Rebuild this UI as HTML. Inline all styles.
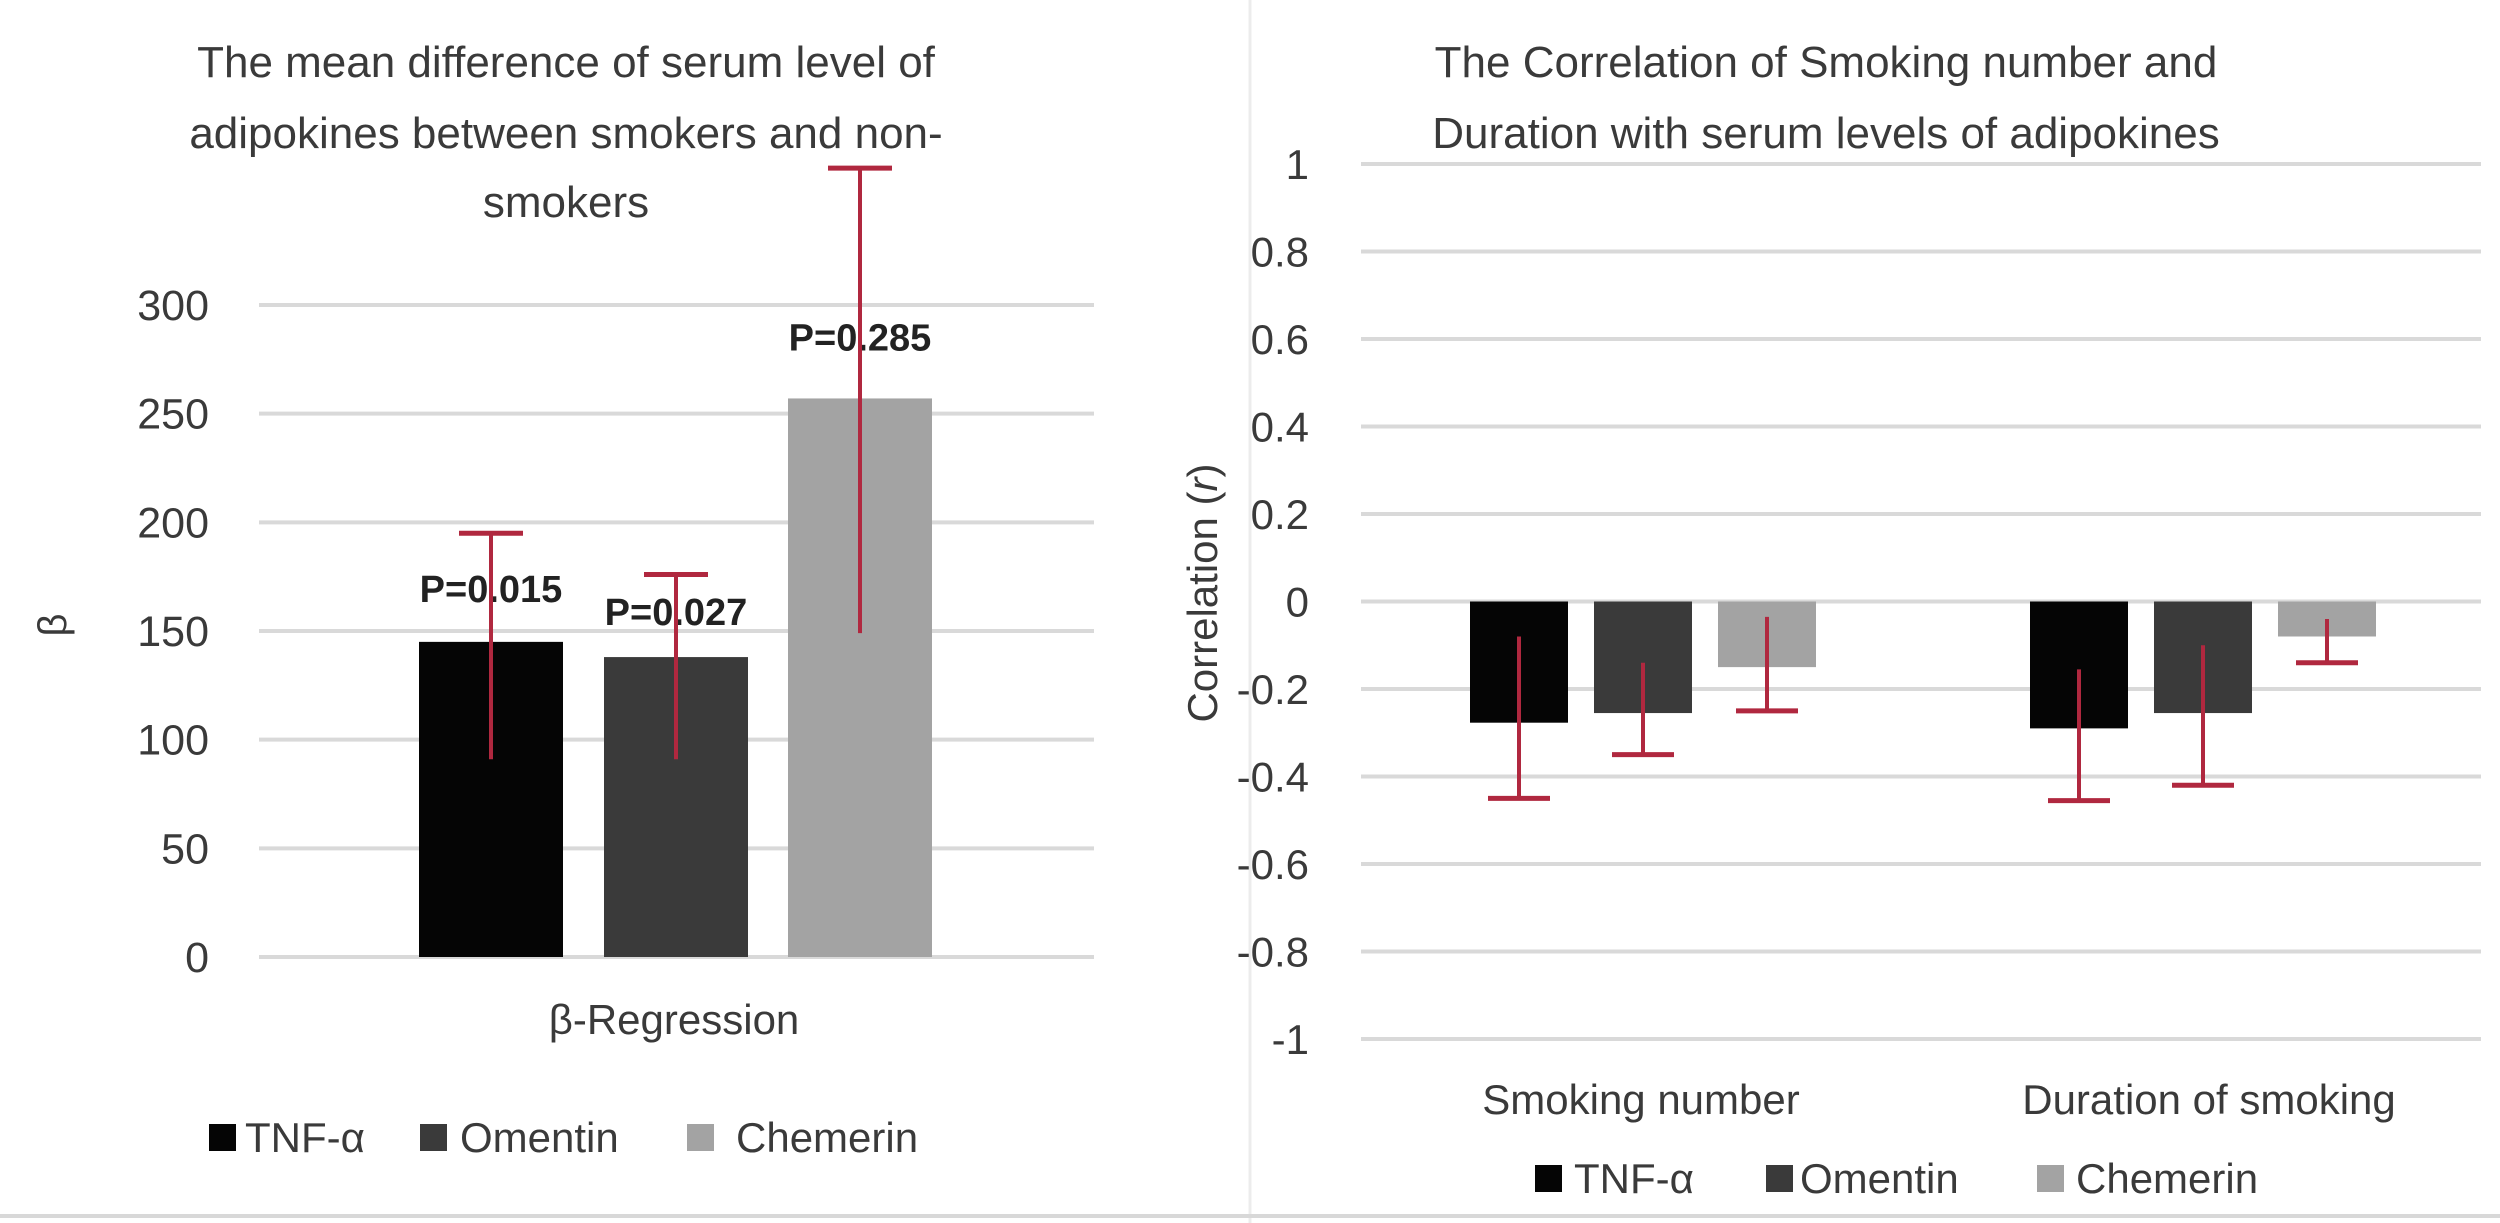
<!DOCTYPE html>
<html><head><meta charset="utf-8">
<style>
html,body{margin:0;padding:0;background:#fff;}
svg{display:block;font-family:"Liberation Sans",Arial,sans-serif;}
</style></head>
<body>
<svg id="fig" width="2500" height="1223" viewBox="0 0 2500 1223" xmlns="http://www.w3.org/2000/svg">
  <rect x="0" y="0" width="2500" height="1223" fill="#fff"/>
  <line x1="1250" y1="0" x2="1250" y2="1223" stroke="#ececec" stroke-width="3"/>
  <line x1="0" y1="1216" x2="2500" y2="1216" stroke="#d8d8d8" stroke-width="4"/>
  <g id="left"></g>
  <g id="right"></g>
</svg>
<script>
// ---- Left chart data ----
const leftSeries = ["TNF-α", "Omentin", "Chemerin"];
const leftValues = [145, 138, 257];
const leftErrLow = [91, 91, 149];
const leftErrHigh = [195, 176, 363];
const leftPLabels = ["P=0.015", "P=0.027", "P=0.285"];
const leftTicks = [0, 50, 100, 150, 200, 250, 300];

// ---- Right chart data ----
const rightCategories = ["Smoking number", "Duration of smoking"];
const rightSeries = ["TNF-α", "Omentin", "Chemerin"];
const rightTNF = [-0.277, -0.29];
const rightOmentin = [-0.255, -0.255];
const rightChemerin = [-0.15, -0.08];
const rightErrTopTNF = [-0.08, -0.155];
const rightErrBotTNF = [-0.45, -0.455];
const rightErrTopOm = [-0.14, -0.1];
const rightErrBotOm = [-0.35, -0.42];
const rightErrTopChem = [-0.035, -0.04];
const rightErrBotChem = [-0.25, -0.14];
const rightTicks = [1, 0.8, 0.6, 0.4, 0.2, 0, -0.2, -0.4, -0.6, -0.8, -1];

const NS = "http://www.w3.org/2000/svg";
const colors = ["#050505", "#3a3a3a", "#a3a3a3"];
const errColor = "#b0283f";
const txt = "#3a3a3a";
function mk(tag, attrs, parent){const e=document.createElementNS(NS,tag);for(const k in attrs)e.setAttribute(k,attrs[k]);parent.appendChild(e);return e;}

// ===== LEFT =====
const L = document.getElementById('left');
const lx0=259, lx1=1094, ly0=957, ly300=305;
const ly = v => ly0 - (v/300)*(ly0-ly300);
leftTicks.forEach(t=>{
  const g=mk('line',{x1:lx0,x2:lx1,y1:ly(t),y2:ly(t),stroke:'#d9d9d9','stroke-width':4},L);
  
  
  const tx=mk('text',{x:209,y:ly(t)+15,'text-anchor':'end','font-size':43,fill:txt},L);
  tx.textContent=String(t);
  
  
});
const lBarX=[419,604,788], lBarW=144;
leftValues.forEach((v,i)=>{
  const r=mk('rect',{x:lBarX[i],y:ly(v),width:lBarW,height:ly(0)-ly(v),fill:colors[i]},L);
  
  
});
leftValues.forEach((v,i)=>{
  const cx=lBarX[i]+lBarW/2;
  const p=mk('text',{x:cx,y:(i==2?ly(v)-48:ly(v)-40)+(i==1?8:0),'text-anchor':'middle','font-size':38,'font-weight':'bold',fill:'#222'},L);
  p.textContent=leftPLabels[i];
  
  
});
leftValues.forEach((v,i)=>{
  const cx=lBarX[i]+lBarW/2;
  const e=mk('line',{x1:cx,x2:cx,y1:ly(leftErrLow[i]),y2:ly(leftErrHigh[i]),stroke:errColor,'stroke-width':4},L);
  
  
  const c=mk('line',{x1:cx-32,x2:cx+32,y1:ly(leftErrHigh[i]),y2:ly(leftErrHigh[i]),stroke:errColor,'stroke-width':5},L);
  
  
});
[["The mean difference of serum level of",62],["adipokines between smokers and non-",133],["smokers",202]].forEach(([s,y],i)=>{
  const t=mk('text',{x:566,y:y+15,'text-anchor':'middle','font-size':44,fill:txt},L);
  t.textContent=s;
  
  
});
const bl=mk('text',{x:0,y:0,'text-anchor':'middle','font-size':40,fill:txt,transform:'translate(66,625) rotate(-90)'},L);
bl.textContent='β';


const xr=mk('text',{x:674,y:1034,'text-anchor':'middle','font-size':42,fill:txt},L);
xr.textContent='β-Regression';


const lLegSq=[209,420,687], lLegTx=[245,460,736];
leftSeries.forEach((s,i)=>{
  const r=mk('rect',{x:lLegSq[i],y:1124,width:27,height:27,fill:colors[i]},L);
  
  
  const t=mk('text',{x:lLegTx[i],y:1152,'font-size':42,fill:txt},L);
  t.textContent=s;
  
  
});

// ===== RIGHT =====
const R = document.getElementById('right');
const rx0=1361, rx1=2481, rTop=164, rBot=1039;
const ry = v => rTop + (1-v)/2*(rBot-rTop);
rightTicks.forEach(t=>{
  const g=mk('line',{x1:rx0,x2:rx1,y1:ry(t),y2:ry(t),stroke:'#d9d9d9','stroke-width':4},R);
  
  
  const tx=mk('text',{x:1309,y:ry(t)+15,'text-anchor':'end','font-size':42,fill:txt},R);
  tx.textContent=String(t);
  
  
});
const groupStart=[1470,2030], barW=98, barStep=124;
const rVals=[rightTNF,rightOmentin,rightChemerin];
const rTop_=[rightErrTopTNF,rightErrTopOm,rightErrTopChem];
const rBotE=[rightErrBotTNF,rightErrBotOm,rightErrBotChem];
rightCategories.forEach((cat,ci)=>{
  rVals.forEach((arr,si)=>{
    const x=groupStart[ci]+si*barStep;
    const v=arr[ci];
    const r=mk('rect',{x:x,y:ry(0),width:barW,height:ry(v)-ry(0),fill:colors[si]},R);
    
    
  });
  rVals.forEach((arr,si)=>{
    const cx=groupStart[ci]+si*barStep+barW/2;
    const e=mk('line',{x1:cx,x2:cx,y1:ry(rTop_[si][ci]),y2:ry(rBotE[si][ci]),stroke:errColor,'stroke-width':4},R);
    
    
    const c=mk('line',{x1:cx-31,x2:cx+31,y1:ry(rBotE[si][ci]),y2:ry(rBotE[si][ci]),stroke:errColor,'stroke-width':5},R);
    
    
  });
  const t=mk('text',{x:[1641,2209][ci],y:1114,'text-anchor':'middle','font-size':42,fill:txt},R);
  t.textContent=cat;
  
  
});
[["The Correlation of Smoking number and",62],["Duration with serum levels of adipokines",133]].forEach(([s,y],i)=>{
  const t=mk('text',{x:1826,y:y+15,'text-anchor':'middle','font-size':44,fill:txt},R);
  t.textContent=s;
  
  
});
const cl=mk('text',{x:0,y:0,'text-anchor':'middle','font-size':42,fill:txt,transform:'translate(1217,593) rotate(-90)'},R);
cl.textContent='Correlation (';
const ci_=mk('tspan',{'font-style':'italic'},cl); ci_.textContent='r';
const ce=mk('tspan',{},cl); ce.textContent=')';


const rLegSq=[1535,1766,2037], rLegTx=[1574,1800,2076];
rightSeries.forEach((s,i)=>{
  const r=mk('rect',{x:rLegSq[i],y:1165,width:27,height:27,fill:colors[i]},R);
  
  
  const t=mk('text',{x:rLegTx[i],y:1193,'font-size':42,fill:txt},R);
  t.textContent=s;
  
  
});
</script>
</body></html>
